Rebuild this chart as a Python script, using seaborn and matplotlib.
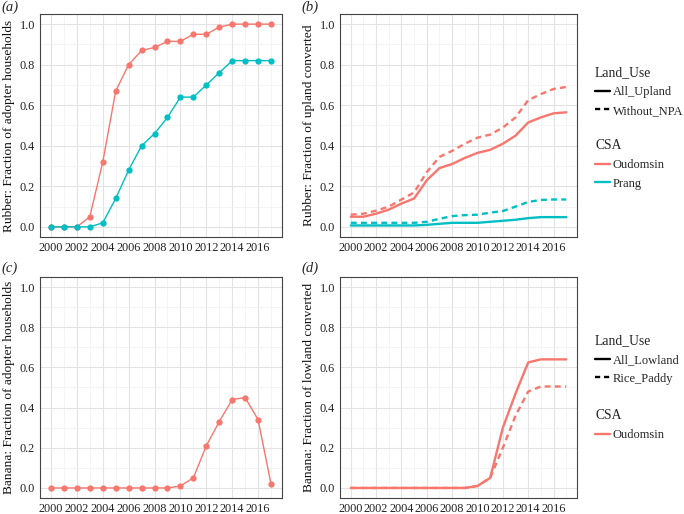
import numpy as np
import pandas as pd
import matplotlib
matplotlib.use("Agg")
import matplotlib.pyplot as plt
import seaborn as sns
from matplotlib.lines import Line2D
from matplotlib.ticker import MultipleLocator

years = list(range(2000, 2018))

# (a) rubber adopters
rub_adopt_oud = [0, 0, 0, 0.05, 0.32, 0.67, 0.80, 0.87, 0.885, 0.915, 0.915, 0.95,
                 0.95, 0.985, 1.0, 1.0, 1.0, 1.0]
rub_adopt_pra = [0, 0, 0, 0, 0.02, 0.14, 0.28, 0.40, 0.46, 0.54, 0.64, 0.64,
                 0.70, 0.76, 0.82, 0.82, 0.82, 0.82]

# (b) rubber upland converted
rub_up_oud_all = [0.05, 0.05, 0.065, 0.085, 0.115, 0.14, 0.23, 0.29, 0.31, 0.34,
                  0.365, 0.38, 0.41, 0.45, 0.515, 0.54, 0.56, 0.565]
rub_up_oud_npa = [0.06, 0.065, 0.08, 0.10, 0.135, 0.17, 0.27, 0.345, 0.375, 0.41,
                  0.44, 0.455, 0.49, 0.54, 0.625, 0.655, 0.68, 0.69]
rub_up_pra_all = [0.007, 0.007, 0.007, 0.007, 0.007, 0.007, 0.01, 0.015, 0.02, 0.02,
                  0.02, 0.025, 0.03, 0.035, 0.043, 0.048, 0.048, 0.048]
rub_up_pra_npa = [0.02, 0.02, 0.02, 0.02, 0.02, 0.02, 0.025, 0.04, 0.053, 0.058,
                  0.06, 0.07, 0.078, 0.10, 0.123, 0.133, 0.135, 0.135]

# (c) banana adopters
ban_adopt_oud = [0, 0, 0, 0, 0, 0, 0, 0, 0, 0, 0.01, 0.05, 0.21, 0.33, 0.44,
                 0.45, 0.34, 0.02]

# (d) banana lowland converted
ban_low_all = [0, 0, 0, 0, 0, 0, 0, 0, 0, 0, 0.01, 0.05, 0.30, 0.47, 0.625,
               0.64, 0.64, 0.64]
ban_low_rice = [0, 0, 0, 0, 0, 0, 0, 0, 0, 0, 0.01, 0.05, 0.20, 0.36, 0.48,
                0.505, 0.505, 0.505]

RED = "#F8766D"
CYAN = "#00BFC4"
FONT = ["Liberation Serif", "DejaVu Serif"]
W, H = 684, 514


def style_axes(ax, ylabel):
    ax.set_facecolor("white")
    ax.set_xlim(1999.15, 2017.85)
    ax.set_ylim(-0.05, 1.05)
    ax.xaxis.set_minor_locator(MultipleLocator(1))
    ax.yaxis.set_minor_locator(MultipleLocator(0.1))
    ax.set_xticks(range(2000, 2017, 2))
    ax.set_yticks([0, 0.2, 0.4, 0.6, 0.8, 1.0])
    ax.set_yticklabels(["0.0", "0.2", "0.4", "0.6", "0.8", "1.0"])
    ax.grid(which="major", color="#e3e3e3", lw=0.8)
    ax.grid(which="minor", color="#f0f0f0", lw=0.5)
    ax.set_axisbelow(True)
    ax.tick_params(which="major", length=2.5, width=0.6, color="#444444",
                   labelsize=8.8, labelcolor="#222222", pad=1.2)
    ax.tick_params(which="minor", length=0)
    for s in ax.spines.values():
        s.set_color("#444444")
        s.set_linewidth(0.8)
    ax.set_xlabel("")
    ax.set_ylabel(ylabel, fontsize=9.6, color="#111111", labelpad=3)


def add_legends(ax, lu_labels, csa_labels, csa_colors, y_lu, y_csa):
    x0 = 1 + 18 / 237
    common = dict(loc="upper left", frameon=False, fontsize=9,
                  title_fontsize=9.8, handlelength=1.2, handletextpad=0.2,
                  labelspacing=0.55, borderaxespad=0, borderpad=0)
    lu_handles = [Line2D([], [], color="black", lw=1.7),
                  Line2D([], [], color="black", lw=1.7, dashes=(2.2, 1.6))]
    leg1 = ax.legend(lu_handles, lu_labels, title="Land_Use",
                     bbox_to_anchor=(x0, y_lu), **common)
    leg1._legend_box.align = "left"
    ax.add_artist(leg1)
    csa_handles = [Line2D([], [], color=c, lw=1.7) for c in csa_colors]
    leg2 = ax.legend(csa_handles, csa_labels, title="CSA",
                     bbox_to_anchor=(x0, y_csa), **common)
    leg2._legend_box.align = "left"


def main():
    sns.set_theme(style="white")
    plt.rcParams["font.family"] = FONT

    fig = plt.figure(figsize=(6.84, 5.14), dpi=100)
    ax_a = fig.add_axes([40 / W, 1 - 237 / H, 242 / W, 223 / H])
    ax_b = fig.add_axes([340 / W, 1 - 237 / H, 237 / W, 223 / H])
    ax_c = fig.add_axes([40 / W, 1 - 498 / H, 242 / W, 221 / H])
    ax_d = fig.add_axes([340 / W, 1 - 498 / H, 237 / W, 221 / H])
    n = len(years)

    # (a)
    df_a = pd.DataFrame({
        "Year": years * 2,
        "Value": rub_adopt_oud + rub_adopt_pra,
        "CSA": ["Oudomsin"] * n + ["Prang"] * n,
    })
    sns.lineplot(data=df_a, x="Year", y="Value", hue="CSA",
                 palette=[RED, CYAN], marker="o", markersize=4.5,
                 markeredgewidth=0, lw=1, legend=False, ax=ax_a)
    style_axes(ax_a, "Rubber: Fraction of adopter households")

    # (b)
    df_b = pd.DataFrame({
        "Year": years * 4,
        "Value": rub_up_oud_all + rub_up_oud_npa + rub_up_pra_all + rub_up_pra_npa,
        "CSA": ["Oudomsin"] * 2 * n + ["Prang"] * 2 * n,
        "Land_Use": (["All_Upland"] * n + ["Without_NPA"] * n) * 2,
    })
    sns.lineplot(data=df_b, x="Year", y="Value", hue="CSA", style="Land_Use",
                 palette=[RED, CYAN], dashes={"All_Upland": "",
                                              "Without_NPA": (2.5, 1.8)},
                 lw=1.7, legend=False, ax=ax_b)
    style_axes(ax_b, "Rubber: Fraction of upland converted")

    # (c)
    df_c = pd.DataFrame({"Year": years, "Value": ban_adopt_oud})
    sns.lineplot(data=df_c, x="Year", y="Value", color=RED, marker="o",
                 markersize=4.5, markeredgewidth=0, lw=1, ax=ax_c)
    style_axes(ax_c, "Banana: Fraction of adopter households")

    # (d)
    df_d = pd.DataFrame({
        "Year": years * 2,
        "Value": ban_low_all + ban_low_rice,
        "Land_Use": ["All_Lowland"] * n + ["Rice_Paddy"] * n,
    })
    sns.lineplot(data=df_d, x="Year", y="Value", style="Land_Use", color=RED,
                 dashes={"All_Lowland": "", "Rice_Paddy": (2.5, 1.8)},
                 lw=1.7, legend=False, ax=ax_d)
    style_axes(ax_d, "Banana: Fraction of lowland converted")

    add_legends(ax_b, ["All_Upland", "Without_NPA"], ["Oudomsin", "Prang"],
                [RED, CYAN], (237 - 66) / 223, (237 - 139) / 223)
    add_legends(ax_d, ["All_Lowland", "Rice_Paddy"], ["Oudomsin"],
                [RED], (498 - 334) / 221, (498 - 409) / 221)

    for x, y, lab in [(1, 1, "(a)"), (301, 1, "(b)"), (1, 262, "(c)"),
                      (301, 262, "(d)")]:
        fig.text(x / W, 1 - y / H, lab, fontsize=10.5, style="italic",
                 va="top", ha="left")

    fig.savefig("out.png", dpi=100)


if __name__ == "__main__":
    main()
